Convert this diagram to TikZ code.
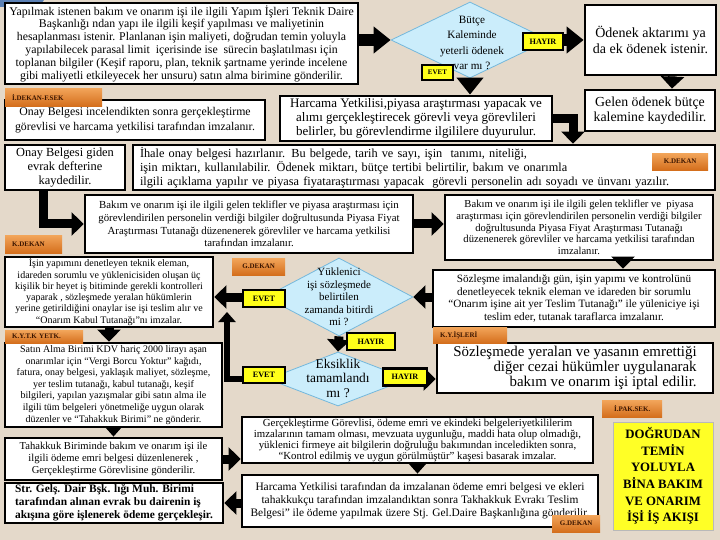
\documentclass[tikz,border=0pt]{standalone}
\usepackage{fontspec}
\setmainfont{Liberation Serif}
\usetikzlibrary{shapes.geometric,arrows.meta}
\definecolor{bgc}{HTML}{E4D9CA}
\definecolor{tagtop}{HTML}{F2A55A}
\definecolor{tagbot}{HTML}{D46E1C}
\definecolor{tagtext}{HTML}{3B1500}
\definecolor{diafill}{HTML}{CBEDFB}
\definecolor{diadraw}{HTML}{74B8DC}
\definecolor{ynfill}{HTML}{FFFF1A}
\definecolor{titlefill}{HTML}{FFFF26}
\definecolor{cornerblue}{HTML}{5B80B4}
\newcommand{\myfs}[2]{\fontsize{#1}{#2}\selectfont}
\begin{document}
\begin{tikzpicture}[x=1pt,y=-1pt,
 box/.style={draw=black,line width=2.8pt,fill=white,align=center,inner sep=1.5pt},
 dia/.style={diamond,draw=diadraw,line width=0.8pt,fill=diafill,inner sep=0pt},
 tag/.style={top color=tagtop,bottom color=tagbot,draw=none,inner sep=0pt,text=tagtext,font=\myfs{7}{7.5}\bfseries,anchor=north west,align=center},
 tagl/.style={tag,align=left,inner xsep=7pt},
 yn/.style={draw=black,line width=2.2pt,fill=ynfill,inner sep=0pt,font=\myfs{8.2}{9}\bfseries},
 arr/.style={line width=9pt,-{Triangle[width=23pt,length=12pt]}},
 bigarr/.style={line width=12pt,-{Triangle[width=26pt,length=17pt]}},
 thinarr/.style={line width=6pt,-{Triangle[width=17pt,length=10pt]}},
 dtext/.style={align=center,inner sep=0pt}
]
\fill[bgc] (0,0) rectangle (720,540);
\useasboundingbox (0,0) rectangle (720,540);
\fill[cornerblue] (0,0) -- (44,0) -- (39,7) -- (0,7) -- cycle;

% boxes
\node[box,minimum width=353pt,minimum height=81pt,font=\myfs{11.8}{12.8}] (b1) at (181.5,43.5) {Yapılmak istenen bakım ve onarım işi ile ilgili Yapım İşleri Teknik Daire\\Başkanlığı ndan yapı ile ilgili keşif yapılması ve maliyetinin\\hesaplanması istenir. Planlanan işin maliyeti, doğrudan temin yoluyla\\yapılabilecek parasal limit \ içerisinde ise \ sürecin başlatılması için\\toplanan bilgiler (Keşif raporu, plan, teknik şartname yerinde incelene\\gibi maliyetli etkileyecek her unsuru) satın alma birimine gönderilir.};

\node[box,minimum width=131pt,minimum height=70pt,font=\myfs{14}{15.5}] (b2) at (650.5,40) {Ödenek aktarımı ya\\da ek ödenek istenir.};
\node[box,minimum width=130pt,minimum height=41pt,font=\myfs{13.8}{15}] (b3) at (650,110.5) {Gelen ödenek bütçe\\kalemine kaydedilir.};

\node[box,minimum width=260pt,minimum height=40pt,font=\myfs{11.8}{14.5}] (b4) at (135,120) {Onay Belgesi incelendikten sonra gerçekleştirme\\görevlisi ve harcama yetkilisi tarafından imzalanır.};
\node[box,minimum width=272pt,minimum height=45pt,font=\myfs{13}{13.8}] (b5) at (416,118.5) {Harcama Yetkilisi,piyasa araştırması yapacak ve\\alımı gerçekleştirecek görevli veya görevlileri\\belirler, bu görevlendirme ilgililere duyurulur.};

\node[box,minimum width=120pt,minimum height=45pt,font=\myfs{12.4}{13.8}] (b6) at (65,167.5) {Onay Belgesi giden\\evrak defterine\\kaydedilir.};
\node[box,text width=568pt,inner xsep=7pt,minimum height=45pt,font=\myfs{12.3}{14},align=left] (b7) at (424,167.5) {İhale onay belgesi hazırlanır. Bu belgede, tarih ve sayı, işin \ tanımı, niteliği,\\işin miktarı, kullanılabilir. Ödenek miktarı, bütçe tertibi belirtilir, bakım ve onarımla\\ilgili açıklama yapılır ve piyasa fiyataraştırması yapacak \ görevli personelin adı soyadı ve ünvanı yazılır.};

\node[box,minimum width=328pt,minimum height=58pt,font=\myfs{10.8}{12.6}] (b8) at (249,224) {Bakım ve onarım işi ile ilgili gelen teklifler ve piyasa araştırması için\\görevlendirilen personelin verdiği bilgiler doğrultusunda Piyasa Fiyat\\Araştırması Tutanağı düzenenerek görevliler ve harcama yetkilisi\\tarafından imzalanır.};
\node[box,minimum width=268pt,minimum height=65pt,font=\myfs{10.6}{11.8}] (b9) at (579,227.5) {Bakım ve onarım işi ile ilgili gelen teklifler ve \ piyasa\\araştırması için görevlendirilen personelin verdiği bilgiler\\doğrultusunda Piyasa Fiyat Araştırması Tutanağı\\düzenenerek görevliler ve harcama yetkilisi tarafından\\imzalanır.};

\node[box,minimum width=282pt,minimum height=57pt,font=\myfs{11.2}{12.5}] (b10) at (574,298.5) {Sözleşme imalandığı gün, işin yapımı ve kontrolünü\\denetleyecek teknik eleman ve idareden bir sorumlu\\“Onarım işine ait yer Teslim Tutanağı” ile yüleniciye işi\\teslim eder, tutanak taraflarca imzalanır.};

\node[box,minimum width=208pt,minimum height=70pt,font=\myfs{10}{11.3}] (b11) at (109,292) {İşin yapımını denetleyen teknik eleman,\\idareden sorumlu ve yüklenicisiden oluşan üç\\kişilik bir heyet iş bitiminde gerekli kontrolleri\\yaparak , sözleşmede yeralan hükümlerin\\yerine getirildiğini onaylar ise işi teslim alır ve\\“Onarım Kabul Tutanağı”nı imzalar.};

\node[box,minimum width=276pt,minimum height=50pt,font=\myfs{14.9}{15.4},align=right] (b12) at (575,368) {Sözleşmede yeralan ve yasanın emrettiği\\diğer cezai hükümler uygulanarak\\bakım ve onarım işi iptal edilir.};

\node[box,minimum width=217pt,minimum height=84pt,font=\myfs{10}{11.6}] (b13) at (113.5,385) {Satın Alma Birimi KDV hariç 2000 lirayı aşan\\onarımlar için “Vergi Borcu Yoktur” kağıdı,\\fatura, onay belgesi, yaklaşık maliyet, sözleşme,\\yer teslim tutanağı, kabul tutanağı, keşif\\bilgileri, yapılan yazışmalar gibi satın alma ile\\ilgili tüm belgeleri yönetmeliğe uygun olarak\\düzenler ve “Tahakkuk Birimi” ne gönderir.};

\node[box,minimum width=217pt,minimum height=42pt,font=\myfs{10.6}{12}] (b14) at (113.5,459) {Tahakkuk Biriminde bakım ve onarım işi ile\\ilgili ödeme emri belgesi düzenlenerek ,\\Gerçekleştirme Görevlisine gönderilir.};

\node[box,minimum width=218pt,minimum height=40pt,font=\myfs{11.4}{13}\bfseries,align=left] (b15) at (114,503) {Str. Gelş. Dair Bşk. lığı Muh. Birimi\\tarafından alınan evrak bu dairenin iş\\akışına göre işlenerek ödeme gerçekleşir.};

\node[box,minimum width=351pt,minimum height=46pt,inner ysep=0.3pt,font=\myfs{10.8}{11}] (b16) at (417.5,440) {Gerçekleştirme Görevlisi, ödeme emri ve ekindeki belgeleriyetkililerim\\imzalarının tamam olması, mevzuata uygunluğu, maddi hata olup olmadığı,\\yüklenici firmeye ait bilgilerin doğruluğu bakımından inceledikten sonra,\\“Kontrol edilmiş ve uygun görülmüştür” kaşesi basarak imzalar.};

\node[box,minimum width=356pt,minimum height=52pt,font=\myfs{11.4}{13}] (b17) at (420,501) {Harcama Yetkilisi tarafından da imzalanan ödeme emri belgesi ve ekleri\\tahakkukçu tarafından imzalandıktan sonra Takhakkuk Evrakı Teslim\\Belgesi” ile ödeme yapılmak üzere Stj. Gel.Daire Başkanlığına gönderilir.};

\node[draw=gray!55,line width=0.6pt,fill=titlefill,minimum width=100pt,minimum height=108pt,font=\myfs{12.8}{16.7}\bfseries,align=center] (title) at (663,476) {DOĞRUDAN\\TEMİN\\YOLUYLA\\BİNA BAKIM\\VE ONARIM\\İŞİ İŞ AKIŞI};

% diamonds
\node[dia,minimum width=158pt,minimum height=76pt] (d0) at (470,40) {};
\node[dtext,font=\myfs{11.2}{15.3}] (d0t) at (472,43) {Bütçe\\Kaleminde\\yeterli ödenek\\var mı ?};
\node[dia,minimum width=148pt,minimum height=78pt] (d1) at (339,297) {};
\node[dtext,font=\myfs{11}{12.6}] (d1t) at (339,297) {Yüklenici\\işi sözleşmede\\belirtilen\\zamanda bitirdi\\mi ?};
\node[dia,minimum width=140pt,minimum height=54pt] (d2) at (338,379) {};
\node[dtext,font=\myfs{13.4}{14.5}] (d2t) at (338,378) {Eksiklik\\tamamlandı\\mı ?};

\coordinate (e2c) at (227,312);

% connectors
\draw[bigarr] (b1.east |- d0.west) -- (d0.west);
\draw[bigarr] (d0.east) -- (d0.east -| b2.west);
\draw[bigarr] (d0.south) -- (d0.south |- b5.north);
\draw[arr] ([xshift=22pt]b2.south) -- ([xshift=22pt]b3.north);
\draw[arr,line join=miter] (b5.east) -| ([xshift=149pt]b7.north);
\draw[arr,line join=miter] ([xshift=-22pt]b6.south) |- (b8.west);
\draw[arr] (b8.east) -- (b8.east -| b9.west);
\draw[arr] ([xshift=44pt]b9.south) -- ([xshift=44pt]b9.south |- b10.north);
\draw[arr] (b10.west |- d1.east) -- (d1.east);
\draw[arr] (d1.west) -- (d1.west -| b11.east);
\draw[arr] (d1.south) -- (d2.north);
\draw[thinarr,line join=miter] (d2.west) -| (e2c);
\draw[arr] (d2.east) -- (d2.east -| b12.west);
\draw[arr] (b11.south) -- (b11.south |- b13.north);
\draw[thinarr] (b13.south) -- (b13.south |- b14.north);
\draw[arr] (b14.east) -- (b14.east -| b16.west);
\draw[arr] (b17.west |- b15.east) -- (b15.east);
\draw[thinarr] (b16.south) -- (b16.south |- b17.north);

% yes / no labels
\node[yn,minimum width=40pt,minimum height=17pt] (h0) at (543,41.5) {HAYIR};
\node[yn,minimum width=31pt,minimum height=15pt,font=\myfs{7}{8}\bfseries] (e0) at (437.5,72.5) {EVET};
\node[yn,minimum width=42pt,minimum height=17pt] (e1) at (264,298.5) {EVET};
\node[yn,minimum width=48pt,minimum height=17pt] (h1) at (371,341.5) {HAYIR};
\node[yn,minimum width=42pt,minimum height=16pt] (e2) at (264,375) {EVET};
\node[yn,minimum width=44pt,minimum height=17pt] (h2) at (405,377) {HAYIR};

% tags
\node[tagl,text width=83pt,minimum height=18pt] (t1) at (5,88) {İ.DEKAN-F.SEK};
\node[tag,minimum width=56pt,minimum height=17pt] (t2) at (652,153) {K.DEKAN};
\node[tagl,text width=43pt,minimum height=18pt] (t3) at (5,235) {K.DEKAN};
\node[tag,minimum width=53pt,minimum height=17pt] (t4) at (232,258) {G.DEKAN};
\node[tagl,text width=64pt,minimum height=13pt] (t5) at (5,330) {K.Y.T.K YETK.};
\node[tagl,text width=60pt,minimum height=16pt] (t6) at (433,327) {K.Y.İŞLERİ};
\node[tag,minimum width=60pt,minimum height=17pt] (t7) at (602,400) {İ.PAK.SEK.};
\node[tag,minimum width=48pt,minimum height=17pt] (t8) at (552,515) {G.DEKAN};
\end{tikzpicture}
\end{document}
